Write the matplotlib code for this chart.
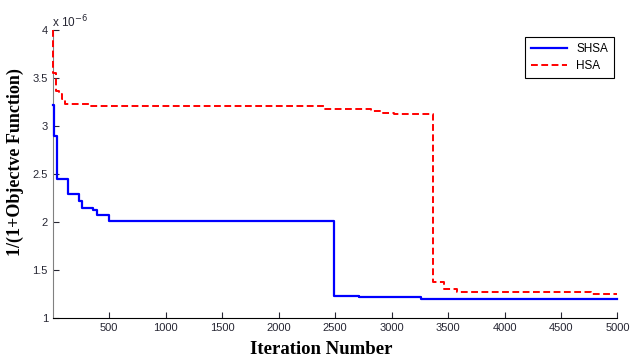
import numpy as np
import matplotlib
matplotlib.use("Agg")
import matplotlib.pyplot as plt

# SHSA convergence (step changes), values in units of 1e-6
shsa_iter = [0, 14, 40, 133, 234, 257, 360, 390, 502, 2486, 2708, 3262, 5000]
shsa_val = [3.22, 2.89, 2.45, 2.29, 2.22, 2.14, 2.12, 2.07, 2.01, 1.23, 1.22, 1.20, 1.20]

# HSA convergence
hsa_iter = [0, 5, 25, 60, 80, 110, 330, 2400, 2820, 2920, 3025, 3365, 3467, 3577, 4770, 5000]
hsa_val = [4.00, 3.55, 3.36, 3.33, 3.28, 3.23, 3.21, 3.18, 3.155, 3.13, 3.12, 1.37, 1.30, 1.27, 1.25, 1.25]

x_ticks = [500, 1000, 1500, 2000, 2500, 3000, 3500, 4000, 4500, 5000]
y_ticks = [1, 1.5, 2, 2.5, 3, 3.5, 4]
y_labels = ["1", "1.5", "2", "2.5", "3", "3.5", "4"]

plt.rcParams['font.family'] = ['Liberation Sans', 'DejaVu Sans']

fig = plt.figure(figsize=(6.32, 3.6), dpi=100)
ax = fig.add_axes([0.0834, 0.1175, 0.8936, 0.7992])

ax.plot(shsa_iter, shsa_val, drawstyle='steps-post',
        color='#0000ff', linewidth=1.6, label='SHSA', zorder=3, clip_on=False)
ax.plot(hsa_iter, hsa_val, drawstyle='steps-post',
        color='#ff0000', linewidth=1.4, linestyle=(0, (3.5, 1.8)), label='HSA',
        zorder=3, clip_on=False)

ax.set_xlim(0, 5000)
ax.set_ylim(1, 4)
ax.set_xticks(x_ticks)
ax.set_yticks(y_ticks)
ax.set_yticklabels(y_labels)

for s in ['top', 'right']:
    ax.spines[s].set_visible(False)
ax.spines['left'].set_color('#808080')
ax.spines['bottom'].set_color('#000000')
ax.tick_params(direction='in', length=4, labelsize=8, colors='#262633')

# exponent marker like the original
fig.text(52 / 632, 1 - 27 / 360, 'x 10$^{-6}$', fontsize=8.5, color='#262633',
         ha='left', va='baseline')

ax.set_xlabel('Iteration Number', fontfamily='Liberation Serif',
              fontweight='bold', fontsize=13.5)
ax.xaxis.set_label_coords(0.476, -0.081)
ax.set_ylabel('1/(1+Objectve Function)', fontfamily='Liberation Serif',
              fontweight='bold', fontsize=13)
ax.yaxis.set_label_coords(-0.051, 0.541)

leg = ax.legend(loc='upper right', bbox_to_anchor=(0.9715, 0.897),
                bbox_transform=fig.transFigure, fontsize=8.5,
                handlelength=3, fancybox=False, framealpha=1,
                edgecolor='black', borderpad=0.5, labelspacing=0.45,
                borderaxespad=0)
leg.get_frame().set_linewidth(0.8)

plt.savefig('out.png', dpi=100)
